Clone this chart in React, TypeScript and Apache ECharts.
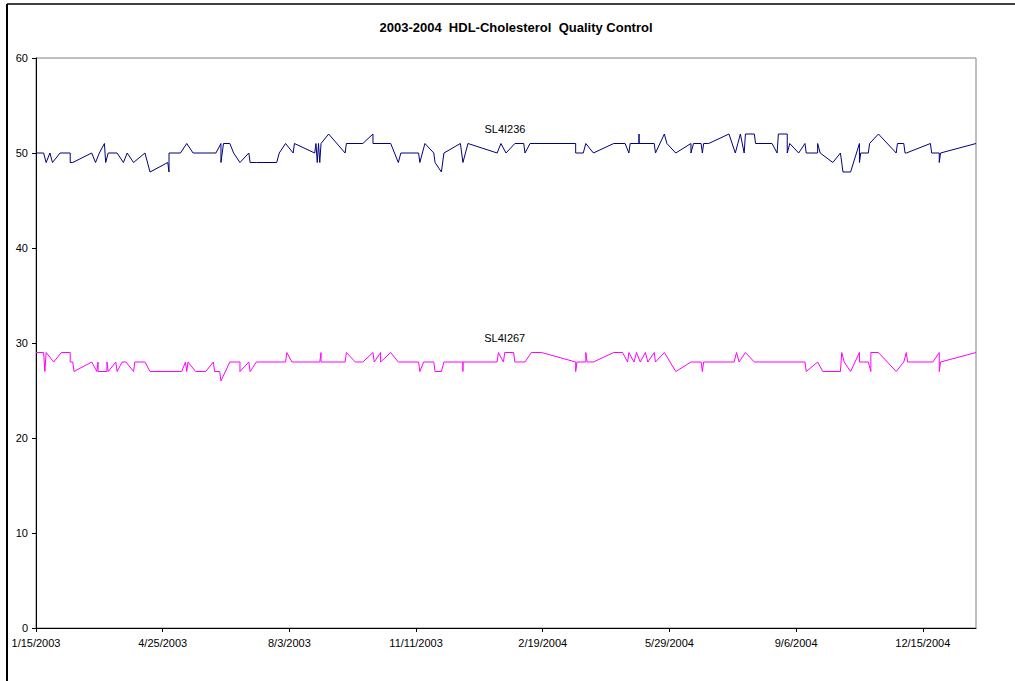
import React, { useEffect, useRef } from "react";
import * as echarts from "echarts";

const titleText = "2003-2004  HDL-Cholesterol  Quality Control";
const startDateUTC = Date.UTC(2003, 0, 15);
const tickDays = [0, 100, 200, 300, 400, 500, 600, 700];
const yTicks = [0, 10, 20, 30, 40, 50, 60];

const navyName = "SL4I236";
const navyDays = [
  0, 6, 8, 11, 13, 19, 27, 27, 29, 44, 47, 50, 54, 55, 57, 64, 69, 72, 77, 86,
  90, 104, 105, 105, 114, 119, 124, 142, 146, 146, 148, 153, 156, 161, 168, 169, 174, 190, 192, 197,
  203, 204, 220, 221, 222, 223, 224, 225, 231, 244, 245, 258, 266, 266, 280, 286, 288, 302, 303, 307,
  314, 315, 320, 322, 335, 337, 341, 364, 367, 371, 378, 385, 386, 390, 426, 426, 432, 434, 440, 456,
  465, 468, 469, 476, 476, 476, 488, 489, 496, 498, 505, 517, 517, 519, 525, 526, 527, 531, 547, 552,
  554, 556, 559, 560, 567, 568, 581, 585, 586, 593, 593, 595, 602, 607, 608, 617, 617, 619, 629, 635,
  637, 643, 650, 650, 651, 657, 658, 665, 679, 680, 685, 686, 687, 706, 707, 713, 713, 714, 742,
];
const navyValues = [
  50, 50, 49, 50, 49, 50, 50, 49, 49, 50, 49, 50, 51, 49, 50, 50, 49, 50, 49, 50,
  48, 49, 48, 50, 50, 51, 50, 50, 51, 49, 51, 51, 50, 49, 50, 49, 49, 49, 50, 51,
  50, 51, 50, 51, 49, 51, 49, 51, 52, 50, 51, 51, 52, 51, 51, 49, 50, 50, 49, 51,
  50, 49, 48, 50, 51, 49, 51, 50, 51, 50, 51, 51, 50, 51, 51, 50, 50, 51, 50, 51,
  51, 50, 51, 51, 52, 51, 51, 50, 52, 51, 50, 51, 50, 51, 51, 50, 51, 51, 52, 50,
  51, 52, 50, 52, 52, 51, 51, 50, 52, 52, 50, 51, 50, 51, 50, 50, 51, 50, 49, 50,
  48, 48, 51, 49, 50, 50, 51, 52, 50, 51, 51, 50, 50, 51, 50, 50, 49, 50, 51,
];
const navyLabelDay = 367;

const magentaName = "SL4I267";
const magentaDays = [
  0, 6, 7, 8, 14, 20, 27, 27, 29, 30, 44, 48, 49, 49, 56, 56, 57, 63, 64, 68,
  71, 77, 78, 86, 90, 115, 118, 119, 120, 126, 134, 140, 141, 145, 146, 153, 161, 161, 168, 169,
  174, 197, 198, 202, 224, 225, 225, 244, 245, 252, 258, 266, 267, 272, 272, 280, 286, 302, 303, 306,
  314, 315, 320, 322, 337, 337, 337, 364, 365, 369, 370, 377, 378, 386, 391, 399, 426, 426, 427, 434,
  434, 435, 440, 456, 463, 467, 468, 472, 474, 477, 481, 483, 488, 489, 496, 505, 517, 525, 526, 527,
  551, 553, 555, 560, 567, 607, 608, 617, 621, 635, 636, 638, 643, 650, 650, 657, 659, 659, 665, 679,
  685, 687, 688, 708, 713, 713, 714, 742,
];
const magentaValues = [
  29, 29, 27, 29, 28, 29, 29, 28, 28, 27, 28, 27, 28, 27, 27, 28, 27, 28, 27, 28,
  28, 27, 28, 28, 27, 27, 28, 27, 28, 27, 27, 28, 27, 27, 26, 28, 28, 27, 28, 27,
  28, 28, 29, 28, 28, 29, 28, 28, 29, 28, 28, 29, 28, 29, 28, 29, 28, 28, 27, 28,
  28, 27, 27, 28, 28, 27, 28, 28, 29, 28, 29, 29, 28, 28, 29, 29, 28, 27, 28, 28,
  29, 28, 28, 29, 29, 28, 29, 28, 29, 28, 29, 28, 29, 28, 29, 27, 28, 28, 27, 28,
  28, 29, 28, 29, 28, 28, 27, 28, 27, 27, 29, 28, 27, 29, 28, 28, 27, 29, 29, 27,
  28, 29, 28, 28, 29, 27, 28, 29,
];
const magentaLabelDay = 370;

const fontFamily = "Arial, 'Liberation Sans', Helvetica, sans-serif";

function fmtDate(offset: number): string {
  const d = new Date(startDateUTC + Math.round(offset) * 86400000);
  return `${d.getUTCMonth() + 1}/${d.getUTCDate()}/${d.getUTCFullYear()}`;
}

function buildData(days: number[], values: number[], labelDay: number, labelOffset: number[]) {
  let labelled = false;
  return days.map((d, i) => {
    if (!labelled && d === labelDay) {
      labelled = true;
      return {
        value: [d, values[i]],
        label: {
          show: true,
          position: "top",
          distance: 9,
          offset: labelOffset,
          formatter: "{a}",
          color: "#000",
          fontSize: 11,
          fontFamily,
        },
      };
    }
    return { value: [d, values[i]] };
  });
}

export default function App() {
  const ref = useRef<HTMLDivElement>(null);
  useEffect(() => {
    if (!ref.current) return;
    const chart = echarts.init(ref.current, undefined, { renderer: "svg" });
    chart.setOption({
      animation: false,
      backgroundColor: "#fff",
      title: {
        text: titleText,
        left: 516,
        top: 21,
        padding: 0,
        textAlign: "center",
        textStyle: { fontSize: 13, fontWeight: "bold", color: "#000", fontFamily },
      },
      graphic: [
        { type: "line", shape: { x1: 7, y1: 4, x2: 1015, y2: 4 }, style: { stroke: "#000", lineWidth: 1.5 }, silent: true },
        { type: "line", shape: { x1: 7, y1: 4, x2: 7, y2: 681 }, style: { stroke: "#000", lineWidth: 2 }, silent: true },
      ],
      grid: {
        left: 36,
        top: 58,
        right: 39,
        bottom: 53,
        show: true,
        borderColor: "#808080",
        borderWidth: 1,
        backgroundColor: "#fff",
      },
      xAxis: {
        type: "value",
        min: 0,
        max: 742,
        interval: 100,
        axisLine: { show: true, onZero: false, lineStyle: { color: "#000", width: 1 } },
        axisTick: { show: true, length: 4, customValues: tickDays, lineStyle: { color: "#000" } },
        axisLabel: {
          customValues: tickDays,
          formatter: (v: number) => fmtDate(v),
          color: "#000",
          fontSize: 11,
          fontFamily,
          margin: 9,
        },
        splitLine: { show: false },
      },
      yAxis: {
        type: "value",
        min: 0,
        max: 60,
        interval: 10,
        axisLine: { show: true, lineStyle: { color: "#000", width: 1 } },
        axisTick: { show: true, length: 4, customValues: yTicks, lineStyle: { color: "#000" } },
        axisLabel: { customValues: yTicks, color: "#000", fontSize: 11, fontFamily, margin: 8 },
        splitLine: { show: false },
      },
      series: [
        {
          name: navyName,
          type: "line",
          data: buildData(navyDays, navyValues, navyLabelDay, [4, 0]),
          symbol: "circle",
          symbolSize: 0,
          showSymbol: true,
          showAllSymbol: true,
          lineStyle: { color: "#000080", width: 1 },
          itemStyle: { color: "#000080" },
          emphasis: { disabled: true },
          silent: true,
        },
        {
          name: magentaName,
          type: "line",
          data: buildData(magentaDays, magentaValues, magentaLabelDay, [0, 0]),
          symbol: "circle",
          symbolSize: 0,
          showSymbol: true,
          showAllSymbol: true,
          lineStyle: { color: "#FF00FF", width: 1 },
          itemStyle: { color: "#FF00FF" },
          emphasis: { disabled: true },
          silent: true,
        },
      ],
    });
    return () => chart.dispose();
  }, []);
  return (
    <div
      ref={ref}
      style={{ position: "absolute", left: 0, top: 0, width: 1015, height: 681 }}
    />
  );
}
